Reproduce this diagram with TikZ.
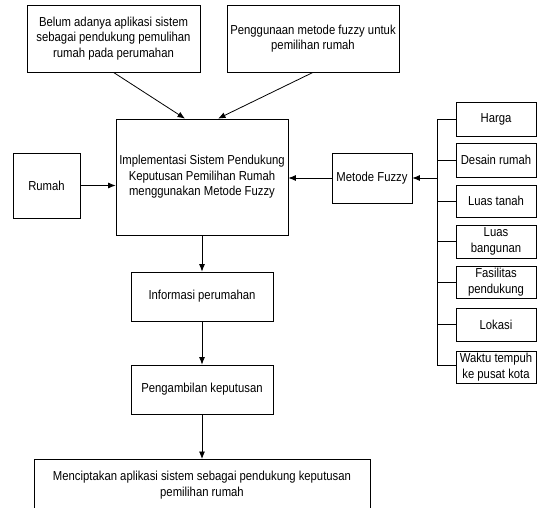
\documentclass[tikz,border=0pt]{standalone}
\usepackage{fontspec}
\setmainfont{Liberation Sans}[FakeStretch=0.87]
\usetikzlibrary{arrows.meta,calc}
\begin{document}
\begin{tikzpicture}[x=1pt,y=-1pt,
  box/.style={draw, line width=0.8pt, rectangle, align=center, inner sep=1pt,
    font=\fontsize{13}{15.5}\selectfont},
  side/.style={box, minimum width=80pt},
  arr/.style={line width=0.8pt, -{Latex[length=7.5pt,width=6pt]}},
  ln/.style={line width=0.8pt}]
\path[use as bounding box] (0,0) rectangle (538,507);
\clip (0,0) rectangle (538,507);
\node[box, minimum width=173pt, minimum height=67pt] (b1) at (113.5,38.5)
  {Belum adanya aplikasi sistem\\sebagai pendukung pemulihan\\rumah pada perumahan};
\node[box, minimum width=172pt, minimum height=67pt] (b2) at (313,38.5)
  {Penggunaan metode fuzzy untuk\\pemilihan rumah};
\node[box, minimum width=172pt, minimum height=116pt] (main) at (202,177)
  {Implementasi Sistem Pendukung\\Keputusan Pemilihan Rumah\\menggunakan Metode Fuzzy};
\node[box, minimum width=67pt, minimum height=65pt] (rumah) at (46.5,185.5) {Rumah};
\node[box, minimum width=80pt, minimum height=50pt] (fuzzy) at (372,178) {Metode Fuzzy};
\node[side, minimum height=34pt] (harga) at (496,119) {Harga};
\node[side, minimum height=34pt] (desain) at (496,160) {Desain rumah};
\node[side, minimum height=32pt] (ltanah) at (496,201) {Luas tanah};
\node[side, minimum height=33pt] (lbang) at (496,241.5) {Luas\\bangunan};
\node[side, minimum height=32pt] (fasil) at (496,282) {Fasilitas\\pendukung};
\node[side, minimum height=33pt] (lokasi) at (496,324.5) {Lokasi};
\node[side, minimum height=32pt] (waktu) at (496,367) {Waktu tempuh\\ke pusat kota};
\node[box, minimum width=142pt, minimum height=49pt] (info) at (202,296.5) {Informasi perumahan};
\node[box, minimum width=142pt, minimum height=49pt] (peng) at (202,389.5) {Pengambilan keputusan};
\node[box, minimum width=336pt, anchor=north, text depth=45pt, inner ysep=12pt] (final) at (202,459)
  {Menciptakan aplikasi sistem sebagai pendukung keputusan\\pemilihan rumah};
\coordinate (busx) at (437,0);
% top arrows
\draw[arr] (b1.south) -- ($(main.north)+(-17,0)$);
\draw[arr] (b2.south) -- ($(main.north)+(16,0)$);
% side arrows
\draw[arr] (rumah.east) -- (rumah.east -| main.west);
\draw[arr] (fuzzy.west) -- (fuzzy.west -| main.east);
% bus
\draw[ln] (harga.west -| busx) -- ($(waktu.west -| busx)+(0,-2)$);
\foreach \n in {harga,desain,ltanah,lbang,fasil,lokasi}
  \draw[ln] (\n.west) -- (\n.west -| busx);
\draw[ln] ($(waktu.west)+(0,-2)$) -- ($(waktu.west -| busx)+(0,-2)$);
\draw[arr] (fuzzy.east -| busx) -- (fuzzy.east);
% vertical flow
\draw[arr] (main.south) -- (info.north);
\draw[arr] (info.south) -- (peng.north);
\draw[arr] (peng.south) -- (final.north);
\end{tikzpicture}
\end{document}
